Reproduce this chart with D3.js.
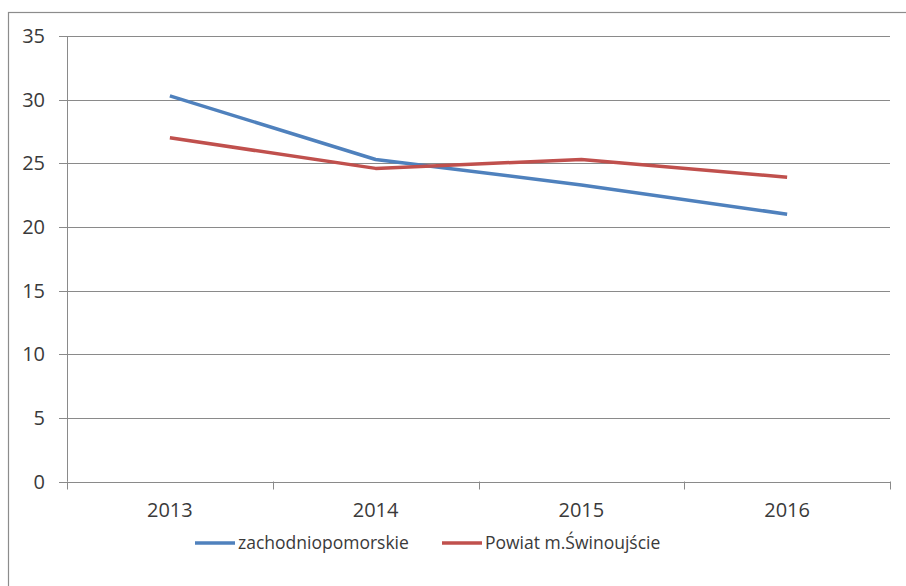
<!DOCTYPE html>
<meta charset="utf-8">
<script src="https://d3js.org/d3.v7.min.js"></script>
<style>
  body { margin: 0; background: #fff; }
  text { font-family: "Open Sans", sans-serif; fill: #3a3a3a; }
</style>
<div id="my_dataviz"></div>
<script>
  // data
  var years = ["2013", "2014", "2015", "2016"];
  var zachodniopomorskie = [30.3, 25.3, 23.3, 21.0];
  var swinoujscie = [27.0, 24.6, 25.3, 23.9];
  var seriesNames = ["zachodniopomorskie", "Powiat m.Świnoujście"];
  var seriesColors = ["#4F81BD", "#C0504D"];
  var yTicks = [0, 5, 10, 15, 20, 25, 30, 35];

  var W = 906, H = 586;
  var margin = {top: 36, right: 16, bottom: 104.5, left: 67},
      width = 890 - margin.left,
      height = 481.5 - margin.top;

  var root = d3.select("#my_dataviz")
    .append("svg")
      .attr("width", W)
      .attr("height", H);

  // outer chart frame (only top and left edges show)
  root.append("rect")
    .attr("x", 8.5).attr("y", 12.5)
    .attr("width", W + 10).attr("height", H + 10)
    .attr("fill", "none")
    .attr("stroke", "#8c8c8c")
    .attr("stroke-width", 1.2);

  var svg = root.append("g")
    .attr("transform", "translate(" + margin.left + "," + margin.top + ")");

  var x = d3.scaleBand().domain(years).range([0, width]);
  var y = d3.scaleLinear().domain([0, 35]).range([height, 0]);

  // horizontal gridlines
  svg.append("g")
    .selectAll("line")
    .data(yTicks)
    .enter()
    .append("line")
      .attr("x1", -8)
      .attr("x2", width)
      .attr("y1", function (d) { return Math.round(y(d)) + 0.5; })
      .attr("y2", function (d) { return Math.round(y(d)) + 0.5; })
      .attr("stroke", "#8a8a8a")
      .attr("stroke-width", 1);

  // y axis line
  svg.append("line")
    .attr("x1", 0.5).attr("x2", 0.5)
    .attr("y1", 0).attr("y2", height)
    .attr("stroke", "#8a8a8a");

  // y labels
  svg.append("g")
    .selectAll("text")
    .data(yTicks)
    .enter()
    .append("text")
      .attr("x", -22)
      .attr("y", function (d) { return y(d); })
      .attr("dy", "0.35em")
      .style("text-anchor", "end")
      .style("font-size", "20px")
      .text(function (d) { return d; });

  // x axis ticks at category boundaries
  var bounds = years.map(function (d) { return x(d); }).concat([width]);
  svg.append("g")
    .selectAll("line")
    .data(bounds)
    .enter()
    .append("line")
      .attr("x1", function (d) { return Math.round(d) + 0.5; })
      .attr("x2", function (d) { return Math.round(d) + 0.5; })
      .attr("y1", height)
      .attr("y2", height + 8)
      .attr("stroke", "#8a8a8a");

  // x labels
  svg.append("g")
    .selectAll("text")
    .data(years)
    .enter()
    .append("text")
      .attr("x", function (d) { return x(d) + x.bandwidth() / 2; })
      .attr("y", height + 35)
      .style("text-anchor", "middle")
      .style("font-size", "20px")
      .text(function (d) { return d; });

  // lines
  var line = d3.line()
    .x(function (d, i) { return x(years[i]) + x.bandwidth() / 2; })
    .y(function (d) { return y(d); });

  [zachodniopomorskie, swinoujscie].forEach(function (vals, k) {
    svg.append("path")
      .datum(vals)
      .attr("d", line)
      .attr("fill", "none")
      .attr("stroke", seriesColors[k])
      .attr("stroke-width", 3.5)
      .attr("stroke-linejoin", "round");
  });

  // legend
  var legendX = [195, 442];
  var legend = root.append("g");
  seriesNames.forEach(function (name, k) {
    legend.append("line")
      .attr("x1", legendX[k]).attr("x2", legendX[k] + 40)
      .attr("y1", 543).attr("y2", 543)
      .attr("stroke", seriesColors[k])
      .attr("stroke-width", 3.5);
    legend.append("text")
      .attr("x", legendX[k] + 43)
      .attr("y", 543)
      .attr("dy", "0.35em")
      .style("font-size", "17.5px")
      .text(name);
  });
</script>
